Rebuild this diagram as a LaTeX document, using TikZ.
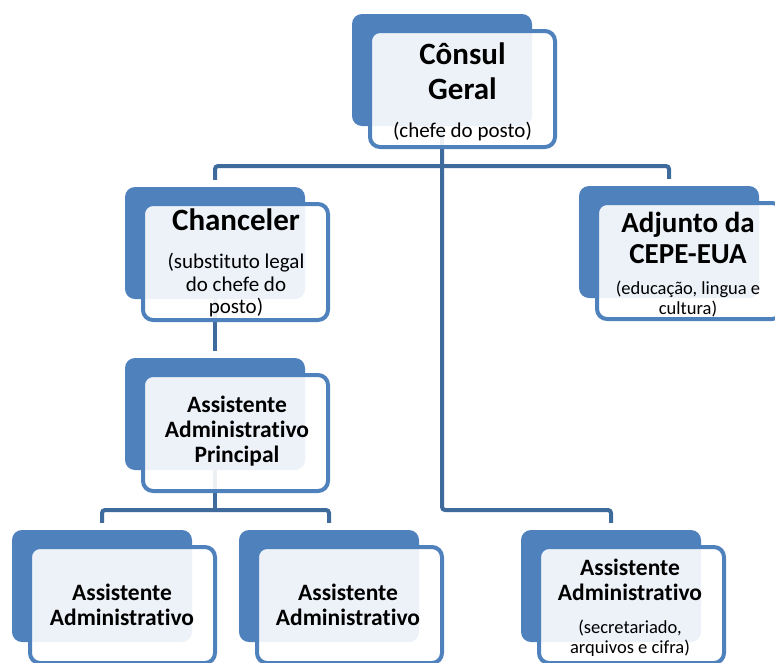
\documentclass[tikz,border=0pt]{standalone}
\usepackage{fontspec}
\setmainfont{Carlito}[Ligatures={NoCommon,NoContextual}]
\usetikzlibrary{calc,positioning}

\definecolor{boxblue}{RGB}{79,129,189}
\definecolor{linkblue}{RGB}{62,106,156}

\begin{document}
\begin{tikzpicture}[x=1pt, y=-1pt,
    back/.style={rectangle, rounded corners=10pt, fill=boxblue, minimum width=180pt, minimum height=112pt, inner sep=0pt},
    front/.style={rectangle, rounded corners=10pt, draw=boxblue, line width=4pt, fill=white, fill opacity=0.9, minimum width=185pt, minimum height=116pt, inner sep=0pt},
    link/.style={draw=linkblue, line width=4pt, rounded corners=3pt},
    title/.style={align=center, inner sep=0pt, font=\bfseries\fontsize{31}{35}\selectfont},
    small title/.style={align=center, inner sep=0pt, font=\bfseries\fontsize{23.5}{25}\selectfont},
    note/.style={align=center, inner sep=0pt, font=\fontsize{21}{22.5}\selectfont},
    small note/.style={align=center, inner sep=0pt, font=\fontsize{18.5}{19.5}\selectfont}]
    \useasboundingbox (0,0) rectangle (775,662);
    \clip (0,0) rectangle (775,662);

    % Draw the back boxes
    \node[back] (consulB) at (442,70) {};
    \node[back] (chanB) at (215,243) {};
    \node[back] (adjB) at (669,242) {};
    \node[back] (aapB) at (215,414) {};
    \node[back] (blB) at (102,586) {};
    \node[back] (bmB) at (329,586) {};
    \node[back] (brB) at (611,586) {};

    % Draw the connectors
    \coordinate (upper) at (0,166);
    \coordinate (lower) at (0,510);
    \draw[link] ([yshift=7pt]chanB.north) -- (chanB.north |- upper) -- (adjB.north |- upper) -- ([yshift=7pt]adjB.north);
    \draw[link] (consulB.south) -- (consulB.south |- lower) -- (brB.north |- lower) -- ([yshift=7pt]brB.north);
    \draw[link] (chanB.south) -- ([yshift=7pt]aapB.north);
    \draw[link] (aapB.south) -- (aapB.south |- lower);
    \draw[link] ([yshift=7pt]blB.north) -- (blB.north |- lower) -- (bmB.north |- lower) -- ([yshift=7pt]bmB.north);

    % Draw the front boxes
    \node[front] (consulF) at ([shift={(20.5,19)}]consulB) {};
    \node[front] (chanF) at ([shift={(20.5,19)}]chanB) {};
    \node[front] (adjF) at ([shift={(20.5,19)}]adjB) {};
    \node[front] (aapF) at ([shift={(20.5,19)}]aapB) {};
    \node[front] (blF) at ([shift={(20.5,19)}]blB) {};
    \node[front] (bmF) at ([shift={(20.5,19)}]bmB) {};
    \node[front] (brF) at ([shift={(20.5,19)}]brB) {};

    % Labels
    \node[title] (consulT) at (462.5,71) {Cônsul\\Geral};
    \node[note] (consulN) at (462.5,132) {(chefe do posto)};
    \node[title] (chanT) at (236,220) {Chanceler};
    \node[note] (chanN) at (236,285.5) {(substituto legal\\do chefe do\\posto)};
    \node[title, font=\bfseries\fontsize{29}{31}\selectfont] (adjT) at (688,237.5) {Adjunto da\\CEPE-EUA};
    \node[small note] (adjN) at (688,299) {(educação, lingua e\\cultura)};
    \node[small title] (aapT) at (237,431) {Assistente\\Administrativo\\Principal};
    \node[small title] (blT) at (122,605) {Assistente\\Administrativo};
    \node[small title] (bmT) at (348,605) {Assistente\\Administrativo};
    \node[small title] (brT) at (630,580) {Assistente\\Administrativo};
    \node[small note] (brN) at (630,638) {(secretariado,\\arquivos e cifra)};
\end{tikzpicture}
\end{document}
